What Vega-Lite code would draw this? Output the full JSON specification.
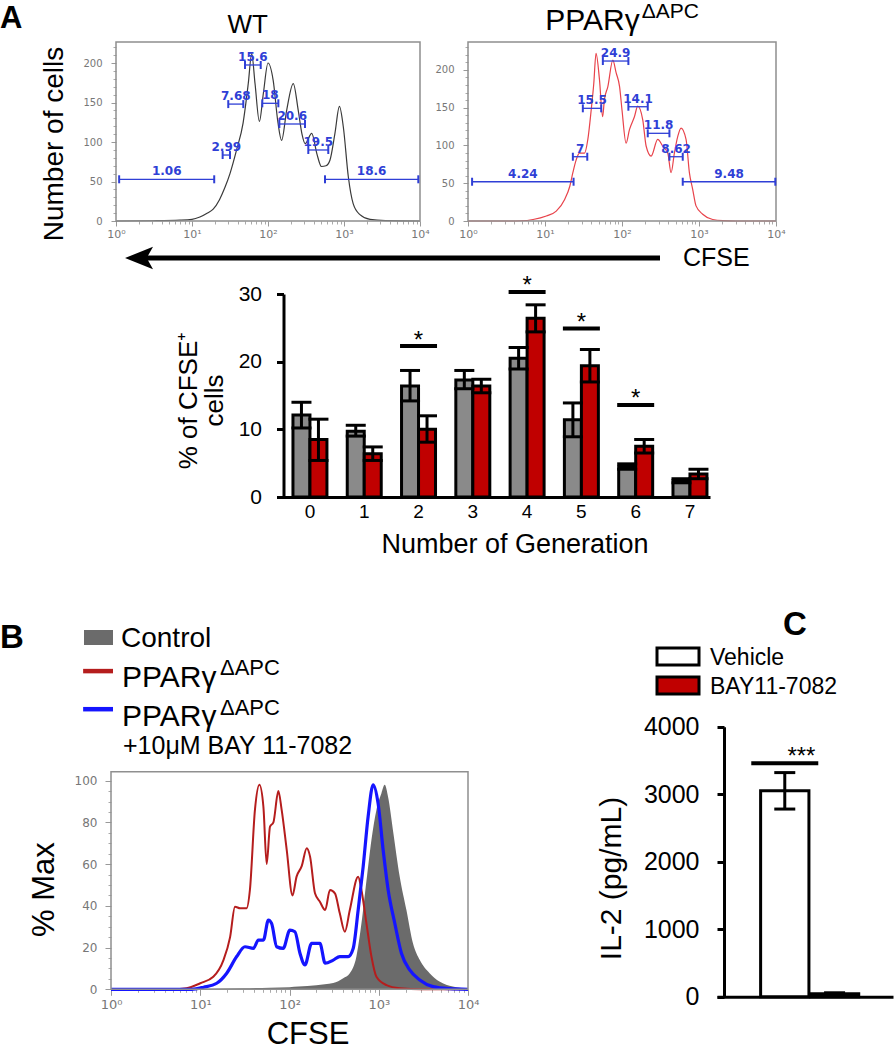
{
"$schema": "https://vega.github.io/schema/vega-lite/v6.json",
"width": 894, "height": 1050,
"autosize": {"type": "none"},
"padding": 0,
"background": "white",
"config": {"view": {"stroke": null}, "font": "Liberation Sans", "axis": {"grid": false}, "tick": {"opacity": 1}},
"datasets": {
"wt": [{"x":1,"y":0},{"x":3,"y":0.3},{"x":7,"y":1},{"x":10,"y":2},{"x":12.7,"y":5},{"x":16,"y":10},{"x":19,"y":15},{"x":23,"y":27},{"x":27,"y":42},{"x":31.6,"y":60},{"x":38.6,"y":90},{"x":47,"y":124},{"x":55,"y":174},{"x":61,"y":212},{"x":67.5,"y":174},{"x":77,"y":126},{"x":87,"y":162},{"x":100,"y":200},{"x":117,"y":178},{"x":135,"y":125},{"x":151,"y":102},{"x":176,"y":140},{"x":215,"y":174},{"x":250,"y":140},{"x":280,"y":110},{"x":308,"y":98},{"x":376,"y":111},{"x":440,"y":85},{"x":505,"y":69},{"x":580,"y":70},{"x":653,"y":77},{"x":760,"y":111},{"x":870,"y":145},{"x":980,"y":119},{"x":1140,"y":56},{"x":1320,"y":22},{"x":1620,"y":8},{"x":2200,"y":2},{"x":3500,"y":0.5},{"x":10000,"y":0}],
"ppar": [{"x":1,"y":0},{"x":3,"y":0},{"x":5,"y":0.3},{"x":7,"y":2},{"x":10.4,"y":6.6},{"x":14,"y":13},{"x":18,"y":28.6},{"x":21,"y":46},{"x":23,"y":64},{"x":25.4,"y":81},{"x":28,"y":90},{"x":32.6,"y":90},{"x":36,"y":108},{"x":39.8,"y":147},{"x":43,"y":182},{"x":46,"y":222},{"x":51,"y":187},{"x":56,"y":138},{"x":59,"y":160},{"x":65.5,"y":178},{"x":76,"y":213},{"x":84,"y":196},{"x":93,"y":178},{"x":100,"y":147},{"x":113,"y":103},{"x":125,"y":121},{"x":145,"y":138},{"x":160,"y":152},{"x":186,"y":134},{"x":206,"y":99},{"x":239,"y":86},{"x":291,"y":108},{"x":339,"y":99},{"x":393,"y":90},{"x":434,"y":64},{"x":479,"y":90},{"x":530,"y":112},{"x":585,"y":123},{"x":679,"y":108},{"x":750,"y":64},{"x":828,"y":42},{"x":915,"y":20},{"x":1117,"y":9},{"x":1506,"y":2},{"x":2040,"y":0.4},{"x":3000,"y":0},{"x":10000,"y":0}],
"wtg": [{"lo":1.1,"hi":19.6,"g":52.8,"t":"1.06"},{"lo":25.3,"hi":31.6,"g":83.5,"t":"2.99"},{"lo":30,"hi":47.3,"g":148,"t":"7.68"},{"lo":49.8,"hi":80.2,"g":197.5,"t":"15.6"},{"lo":84.1,"hi":136.8,"g":149,"t":"18"},{"lo":141,"hi":307,"g":122.8,"t":"20.6"},{"lo":339,"hi":621,"g":89.9,"t":"19.5"},{"lo":562,"hi":9500,"g":52.8,"t":"18.6"}],
"ppg": [{"lo":1.13,"hi":23.5,"g":52,"t":"4.24"},{"lo":23,"hi":35.4,"g":85.1,"t":"7"},{"lo":31,"hi":53.7,"g":149.2,"t":"15.5"},{"lo":56.4,"hi":121,"g":211.8,"t":"24.9"},{"lo":121,"hi":216,"g":151.3,"t":"14.1"},{"lo":216,"hi":413,"g":116.1,"t":"11.8"},{"lo":413,"hi":615,"g":85.1,"t":"8.62"},{"lo":615,"hi":9800,"g":52,"t":"9.48"}],
"bars": [{"gen":"0","group":"WT","v":12.1,"lo":10.2,"hi":14.0},{"gen":"0","group":"PPAR","v":8.5,"lo":5.4,"hi":11.5},{"gen":"1","group":"WT","v":9.7,"lo":9.0,"hi":10.6},{"gen":"1","group":"PPAR","v":6.4,"lo":5.4,"hi":7.4},{"gen":"2","group":"WT","v":16.4,"lo":14.2,"hi":18.7},{"gen":"2","group":"PPAR","v":10.0,"lo":8.1,"hi":12.0},{"gen":"3","group":"WT","v":17.3,"lo":16.0,"hi":18.7},{"gen":"3","group":"PPAR","v":16.4,"lo":15.4,"hi":17.4},{"gen":"4","group":"WT","v":20.5,"lo":18.9,"hi":22.1},{"gen":"4","group":"PPAR","v":26.4,"lo":24.4,"hi":28.4},{"gen":"5","group":"WT","v":11.4,"lo":8.9,"hi":13.9},{"gen":"5","group":"PPAR","v":19.4,"lo":17.0,"hi":21.8},{"gen":"6","group":"WT","v":4.5,"lo":4.1,"hi":4.9},{"gen":"6","group":"PPAR","v":7.5,"lo":6.5,"hi":8.5},{"gen":"7","group":"WT","v":2.4,"lo":2.1,"hi":2.7},{"gen":"7","group":"PPAR","v":3.4,"lo":2.7,"hi":4.1}],
"sig": [{"gen":"2","s":22.3},{"gen":"4","s":30.3},{"gen":"5","s":24.9},{"gen":"6","s":13.6}],
"ctrl": [{"x":1,"y":0},{"x":10,"y":0.3},{"x":30,"y":0.5},{"x":60,"y":0.8},{"x":100,"y":1},{"x":126,"y":1.3},{"x":200,"y":2},{"x":309,"y":3},{"x":400,"y":5.3},{"x":474,"y":7.7},{"x":562,"y":15.7},{"x":640,"y":31.6},{"x":728,"y":52},{"x":828,"y":71.6},{"x":942,"y":86},{"x":1072,"y":94},{"x":1167,"y":98},{"x":1274,"y":92},{"x":1445,"y":76},{"x":1718,"y":54},{"x":2042,"y":38},{"x":2421,"y":22},{"x":2884,"y":14},{"x":3715,"y":7.7},{"x":4786,"y":3.7},{"x":6761,"y":1.3},{"x":9550,"y":0.3},{"x":10000,"y":0.2}],
"red": [{"x":1,"y":0},{"x":5,"y":0},{"x":7,"y":0.5},{"x":10,"y":2.9},{"x":14,"y":6},{"x":18.2,"y":14},{"x":21.6,"y":25},{"x":24.5,"y":39.6},{"x":28,"y":38.8},{"x":33,"y":38.8},{"x":36,"y":47.6},{"x":41,"y":86},{"x":46,"y":98},{"x":51,"y":87.5},{"x":55.5,"y":60},{"x":60.5,"y":78},{"x":66,"y":80},{"x":75,"y":95},{"x":81.7,"y":86},{"x":93,"y":67},{"x":108,"y":45},{"x":120,"y":54},{"x":137,"y":59},{"x":156,"y":67.6},{"x":170,"y":63.6},{"x":193,"y":46},{"x":219,"y":42},{"x":251,"y":38},{"x":284,"y":47.6},{"x":323,"y":46},{"x":366,"y":36.4},{"x":417,"y":27.6},{"x":474,"y":38},{"x":588,"y":54},{"x":640,"y":47.6},{"x":728,"y":31.6},{"x":828,"y":15.7},{"x":942,"y":6},{"x":1220,"y":2},{"x":1718,"y":0.5},{"x":3000,"y":0},{"x":10000,"y":0}],
"blue": [{"x":1,"y":0},{"x":8,"y":0},{"x":10.9,"y":1},{"x":15.3,"y":2.9},{"x":19.8,"y":7.7},{"x":25.6,"y":15.7},{"x":31.7,"y":20.4},{"x":39.4,"y":19.6},{"x":44.8,"y":23.6},{"x":51,"y":23.6},{"x":58,"y":33.2},{"x":63,"y":31.6},{"x":71.8,"y":20.4},{"x":85,"y":19.6},{"x":101,"y":28.4},{"x":115,"y":27.6},{"x":131,"y":17.3},{"x":149,"y":11.7},{"x":177,"y":22},{"x":219,"y":22},{"x":251,"y":12.5},{"x":309,"y":14},{"x":366,"y":15.7},{"x":454,"y":15.7},{"x":517,"y":19.6},{"x":588,"y":38},{"x":669,"y":58.8},{"x":760,"y":82.7},{"x":865,"y":98},{"x":984,"y":89},{"x":1120,"y":66.8},{"x":1275,"y":47.6},{"x":1513,"y":31.6},{"x":1795,"y":17.3},{"x":2222,"y":9.3},{"x":2880,"y":4.5},{"x":4055,"y":1.3},{"x":6200,"y":0.3},{"x":10000,"y":0}],
"bleg": [{"k":"c","label":"Control","sup":"","line2":""},{"k":"p","label":"PPARγ","sup":"ΔAPC","line2":""},{"k":"b","label":"PPARγ","sup":"ΔAPC","line2":"+10μM BAY 11-7082"}],
"il2": [{"c":"Vehicle","v":3050,"lo":2780,"hi":3320},{"c":"BAY11-7082","v":45,"lo":32,"hi":58}],
"il2sig": [{"c":"Vehicle","s":3460}]
},
"resolve": {"scale": {"x": "independent", "y": "independent", "fill": "independent", "color": "independent"}, "axis": {"x": "independent", "y": "independent"}},
"layer": [
{"resolve": {"axis": {"x": "independent", "y": "independent"}},
 "layer": [
 {"data": {"name": "wt"}, "mark": {"type": "line", "color": "#3a3a3a", "strokeWidth": 1.2, "interpolate": "monotone"},
  "encoding": {"x": {"field": "x", "type": "quantitative", "scale": {"type": "log", "domain": [1, 10000], "range": [116, 420], "nice": false},
     "axis": {"orient": "bottom", "offset": -829, "values": [1, 10, 100, 1000, 10000], "labelExpr": "datum.value == 1 ? '10⁰' : datum.value == 10 ? '10¹' : datum.value == 100 ? '10²' : datum.value == 1000 ? '10³' : '10⁴'", "labelFont": "DejaVu Sans", "labelFontSize": 11, "labelColor": "#777", "tickColor": "#999", "tickSize": 5, "domain": false, "labelPadding": 2, "labelFlush": false, "labelOverlap": false, "title": null}},
   "y": {"field": "y", "type": "quantitative", "scale": {"type": "linear", "domain": [0, 226.6], "range": [221, 42], "nice": false, "zero": false},
     "axis": {"orient": "left", "offset": -116, "values": [0, 50, 100, 150, 200], "labelFont": "DejaVu Sans", "labelFontSize": 10, "labelColor": "#777", "tickColor": "#999", "tickSize": 5, "domain": false, "labelPadding": 9, "title": "Number of cells", "titleFont": "Liberation Sans", "titleFontSize": 28, "titleFontWeight": "normal", "titleColor": "black", "titleX": -54, "titleY": 143.5, "titleAngle": 270, "titleBaseline": "alphabetic", "titleAlign": "center"}}}},
 {"data": {"values": [{}]}, "mark": {"type": "rect", "filled": false, "color": "#8f8f8f", "strokeWidth": 1.5},
  "encoding": {"x": {"datum": 1, "type": "quantitative", "scale": {"type": "log", "domain": [1, 10000], "range": [116, 420], "nice": false},
     "axis": {"orient": "bottom", "offset": -829, "values": [2,3,4,5,6,7,8,9,20,30,40,50,60,70,80,90,200,300,400,500,600,700,800,900,2000,3000,4000,5000,6000,7000,8000,9000], "labels": false, "tickColor": "#aaa", "tickSize": 3, "domain": false, "title": null}}, "x2": {"datum": 10000},
   "y": {"datum": 0, "type": "quantitative", "scale": {"type": "linear", "domain": [0, 226.6], "range": [221, 42], "nice": false, "zero": false},
     "axis": {"orient": "left", "offset": -116, "values": [10,20,30,40,60,70,80,90,110,120,130,140,160,170,180,190,210,220], "labels": false, "tickColor": "#aaa", "tickSize": 3, "domain": false, "title": null}}, "y2": {"datum": 226.6}}},
 {"data": {"name": "wtg"}, "mark": {"type": "rule", "color": "#2f3fd6", "strokeWidth": 1.3},
  "encoding": {"x": {"field": "lo", "type": "quantitative", "scale": {"type": "log", "domain": [1, 10000], "range": [116, 420], "nice": false}, "axis": null}, "x2": {"field": "hi"},
   "y": {"field": "g", "type": "quantitative", "scale": {"type": "linear", "domain": [0, 226.6], "range": [221, 42], "nice": false, "zero": false}, "axis": null}}},
 {"data": {"name": "wtg"}, "mark": {"type": "tick", "orient": "vertical", "color": "#2f3fd6", "size": 8, "thickness": 2},
  "encoding": {"x": {"field": "lo", "type": "quantitative", "scale": {"type": "log", "domain": [1, 10000], "range": [116, 420], "nice": false}, "axis": null},
   "y": {"field": "g", "type": "quantitative", "scale": {"type": "linear", "domain": [0, 226.6], "range": [221, 42], "nice": false, "zero": false}, "axis": null}}},
 {"data": {"name": "wtg"}, "mark": {"type": "tick", "orient": "vertical", "color": "#2f3fd6", "size": 8, "thickness": 2},
  "encoding": {"x": {"field": "hi", "type": "quantitative", "scale": {"type": "log", "domain": [1, 10000], "range": [116, 420], "nice": false}, "axis": null},
   "y": {"field": "g", "type": "quantitative", "scale": {"type": "linear", "domain": [0, 226.6], "range": [221, 42], "nice": false, "zero": false}, "axis": null}}},
 {"data": {"name": "wtg"}, "transform": [{"calculate": "sqrt(datum.lo*datum.hi)", "as": "m"}],
  "mark": {"type": "text", "color": "#2f3fd6", "font": "DejaVu Sans", "fontWeight": "bold", "fontSize": 12, "dy": -4, "baseline": "alphabetic"},
  "encoding": {"x": {"field": "m", "type": "quantitative", "scale": {"type": "log", "domain": [1, 10000], "range": [116, 420], "nice": false}, "axis": null},
   "y": {"field": "g", "type": "quantitative", "scale": {"type": "linear", "domain": [0, 226.6], "range": [221, 42], "nice": false, "zero": false}, "axis": null}, "text": {"field": "t"}}},
 {"data": {"values": [{}]}, "mark": {"type": "text", "text": "WT", "fontSize": 26, "baseline": "alphabetic", "align": "center"},
  "encoding": {"x": {"datum": 54.1, "type": "quantitative", "scale": {"type": "log", "domain": [1, 10000], "range": [116, 420], "nice": false}, "axis": null},
   "y": {"datum": 238, "type": "quantitative", "scale": {"type": "linear", "domain": [0, 226.6], "range": [221, 42], "nice": false, "zero": false}, "axis": null}}},
 {"data": {"values": [{}]}, "mark": {"type": "text", "text": "A", "fontSize": 31, "fontWeight": "bold", "baseline": "alphabetic", "align": "left"},
  "encoding": {"x": {"datum": 0.0298, "type": "quantitative", "scale": {"type": "log", "domain": [1, 10000], "range": [116, 420], "nice": false}, "axis": null},
   "y": {"datum": 244.3, "type": "quantitative", "scale": {"type": "linear", "domain": [0, 226.6], "range": [221, 42], "nice": false, "zero": false}, "axis": null}}}
]},
{"resolve": {"axis": {"x": "independent", "y": "independent"}},
 "layer": [
 {"data": {"name": "ppar"}, "mark": {"type": "line", "color": "#e8434b", "strokeWidth": 1.2, "interpolate": "monotone"},
  "encoding": {"x": {"field": "x", "type": "quantitative", "scale": {"type": "log", "domain": [1, 10000], "range": [468, 776], "nice": false},
     "axis": {"orient": "bottom", "offset": -829, "values": [1, 10, 100, 1000, 10000], "labelExpr": "datum.value == 1 ? '10⁰' : datum.value == 10 ? '10¹' : datum.value == 100 ? '10²' : datum.value == 1000 ? '10³' : '10⁴'", "labelFont": "DejaVu Sans", "labelFontSize": 11, "labelColor": "#777", "tickColor": "#999", "tickSize": 5, "domain": false, "labelPadding": 2, "labelFlush": false, "labelOverlap": false, "title": null}},
   "y": {"field": "y", "type": "quantitative", "scale": {"type": "linear", "domain": [0, 237], "range": [221, 42], "nice": false, "zero": false},
     "axis": {"orient": "left", "offset": -468, "values": [0, 50, 100, 150, 200], "labelFont": "DejaVu Sans", "labelFontSize": 10, "labelColor": "#777", "tickColor": "#999", "tickSize": 5, "domain": false, "labelPadding": 9, "title": null}}}},
 {"data": {"values": [{}]}, "mark": {"type": "rect", "filled": false, "color": "#8f8f8f", "strokeWidth": 1.5},
  "encoding": {"x": {"datum": 1, "type": "quantitative", "scale": {"type": "log", "domain": [1, 10000], "range": [468, 776], "nice": false},
     "axis": {"orient": "bottom", "offset": -829, "values": [2,3,4,5,6,7,8,9,20,30,40,50,60,70,80,90,200,300,400,500,600,700,800,900,2000,3000,4000,5000,6000,7000,8000,9000], "labels": false, "tickColor": "#aaa", "tickSize": 3, "domain": false, "title": null}}, "x2": {"datum": 10000},
   "y": {"datum": 0, "type": "quantitative", "scale": {"type": "linear", "domain": [0, 237], "range": [221, 42], "nice": false, "zero": false},
     "axis": {"orient": "left", "offset": -468, "values": [10,20,30,40,60,70,80,90,110,120,130,140,160,170,180,190,210,220,230], "labels": false, "tickColor": "#aaa", "tickSize": 3, "domain": false, "title": null}}, "y2": {"datum": 237}}},
 {"data": {"name": "ppg"}, "mark": {"type": "rule", "color": "#2f3fd6", "strokeWidth": 1.3},
  "encoding": {"x": {"field": "lo", "type": "quantitative", "scale": {"type": "log", "domain": [1, 10000], "range": [468, 776], "nice": false}, "axis": null}, "x2": {"field": "hi"},
   "y": {"field": "g", "type": "quantitative", "scale": {"type": "linear", "domain": [0, 237], "range": [221, 42], "nice": false, "zero": false}, "axis": null}}},
 {"data": {"name": "ppg"}, "mark": {"type": "tick", "orient": "vertical", "color": "#2f3fd6", "size": 8, "thickness": 2},
  "encoding": {"x": {"field": "lo", "type": "quantitative", "scale": {"type": "log", "domain": [1, 10000], "range": [468, 776], "nice": false}, "axis": null},
   "y": {"field": "g", "type": "quantitative", "scale": {"type": "linear", "domain": [0, 237], "range": [221, 42], "nice": false, "zero": false}, "axis": null}}},
 {"data": {"name": "ppg"}, "mark": {"type": "tick", "orient": "vertical", "color": "#2f3fd6", "size": 8, "thickness": 2},
  "encoding": {"x": {"field": "hi", "type": "quantitative", "scale": {"type": "log", "domain": [1, 10000], "range": [468, 776], "nice": false}, "axis": null},
   "y": {"field": "g", "type": "quantitative", "scale": {"type": "linear", "domain": [0, 237], "range": [221, 42], "nice": false, "zero": false}, "axis": null}}},
 {"data": {"name": "ppg"}, "transform": [{"calculate": "sqrt(datum.lo*datum.hi)", "as": "m"}],
  "mark": {"type": "text", "color": "#2f3fd6", "font": "DejaVu Sans", "fontWeight": "bold", "fontSize": 12, "dy": -4, "baseline": "alphabetic"},
  "encoding": {"x": {"field": "m", "type": "quantitative", "scale": {"type": "log", "domain": [1, 10000], "range": [468, 776], "nice": false}, "axis": null},
   "y": {"field": "g", "type": "quantitative", "scale": {"type": "linear", "domain": [0, 237], "range": [221, 42], "nice": false, "zero": false}, "axis": null}, "text": {"field": "t"}}},
 {"data": {"values": [{}]}, "mark": {"type": "text", "text": "PPARγ", "fontSize": 30, "baseline": "alphabetic", "align": "right"},
  "encoding": {"x": {"datum": 170, "type": "quantitative", "scale": {"type": "log", "domain": [1, 10000], "range": [468, 776], "nice": false}, "axis": null},
   "y": {"datum": 252.9, "type": "quantitative", "scale": {"type": "linear", "domain": [0, 237], "range": [221, 42], "nice": false, "zero": false}, "axis": null}}},
 {"data": {"values": [{}]}, "mark": {"type": "text", "text": "ΔAPC", "fontSize": 21, "baseline": "alphabetic", "align": "left", "dx": 2},
  "encoding": {"x": {"datum": 170, "type": "quantitative", "scale": {"type": "log", "domain": [1, 10000], "range": [468, 776], "nice": false}, "axis": null},
   "y": {"datum": 268.4, "type": "quantitative", "scale": {"type": "linear", "domain": [0, 237], "range": [221, 42], "nice": false, "zero": false}, "axis": null}}}
]},
{"data": {"values": [{}]}, "layer": [
 {"mark": {"type": "rule", "color": "black", "strokeWidth": 5},
  "encoding": {"x": {"datum": 0.03, "type": "quantitative", "scale": {"type": "linear", "domain": [0, 1], "range": [125, 660], "nice": false, "zero": false}, "axis": null}, "x2": {"datum": 1},
   "y": {"datum": 0.5, "type": "quantitative", "scale": {"type": "linear", "domain": [0, 1], "range": [269, 247], "nice": false, "zero": false}, "axis": null}}},
 {"mark": {"type": "point", "shape": "M-1,0L1,-0.8L0.55,0L1,0.8Z", "filled": true, "color": "black", "opacity": 1, "size": 784},
  "encoding": {"x": {"datum": 0.0262, "type": "quantitative", "scale": {"type": "linear", "domain": [0, 1], "range": [125, 660], "nice": false, "zero": false}, "axis": null},
   "y": {"datum": 0.5, "type": "quantitative", "scale": {"type": "linear", "domain": [0, 1], "range": [269, 247], "nice": false, "zero": false}, "axis": null}}},
 {"mark": {"type": "text", "text": "CFSE", "fontSize": 25, "baseline": "middle", "align": "left"},
  "encoding": {"x": {"datum": 1.043, "type": "quantitative", "scale": {"type": "linear", "domain": [0, 1], "range": [125, 660], "nice": false, "zero": false}, "axis": null},
   "y": {"datum": 0.5, "type": "quantitative", "scale": {"type": "linear", "domain": [0, 1], "range": [269, 247], "nice": false, "zero": false}, "axis": null}}}
]},
{"layer": [
 {"data": {"name": "bars"}, "mark": {"type": "bar", "stroke": "black", "strokeWidth": 3},
  "encoding": {"x": {"field": "gen", "type": "nominal", "scale": {"type": "band", "domain": ["0","1","2","3","4","5","6","7"], "range": [277, 710], "paddingInner": 0.374, "paddingOuter": 0.175, "align": 0.84},
     "axis": {"orient": "bottom", "offset": -553, "labelAngle": 0, "labelFontSize": 19, "labelColor": "black", "labelPadding": 5, "ticks": false, "domainColor": "black", "domainWidth": 3, "title": "Number of Generation", "titleFontSize": 27, "titleFontWeight": "normal", "titleColor": "black", "titleX": 514.5, "titleY": 55.7, "titleBaseline": "alphabetic", "titleAlign": "center"}},
   "xOffset": {"field": "group", "type": "nominal", "scale": {"domain": ["WT", "PPAR"]}},
   "y": {"field": "v", "type": "quantitative", "scale": {"type": "linear", "domain": [0, 30], "range": [497, 294], "nice": false},
     "axis": {"orient": "left", "offset": -283.5, "values": [0, 10, 20, 30], "labelFontSize": 21, "labelColor": "black", "labelPadding": 15, "tickSize": 7, "tickWidth": 3, "tickColor": "black", "domainColor": "black", "domainWidth": 3, "title": ["% of CFSE⁺", "cells"], "titleFontSize": 26, "titleFontWeight": "normal", "titleColor": "black", "titleX": -87.5, "titleY": 400, "titleAngle": 270, "titleBaseline": "alphabetic", "titleAlign": "center", "titleLineHeight": 26}},
   "fill": {"field": "group", "type": "nominal", "scale": {"domain": ["WT", "PPAR"], "range": ["#8a8a8a", "#c00000"]}, "legend": null}}},
 {"data": {"name": "bars"}, "mark": {"type": "rule", "color": "black", "strokeWidth": 3},
  "encoding": {"x": {"field": "gen", "type": "nominal", "scale": {"type": "band", "domain": ["0","1","2","3","4","5","6","7"], "range": [277, 710], "paddingInner": 0.374, "paddingOuter": 0.175, "align": 0.84}},
   "xOffset": {"field": "group", "type": "nominal", "scale": {"domain": ["WT", "PPAR"]}},
   "y": {"field": "lo", "type": "quantitative", "scale": {"type": "linear", "domain": [0, 30], "range": [497, 294], "nice": false}}, "y2": {"field": "hi"}}},
 {"data": {"name": "bars"}, "mark": {"type": "tick", "color": "black", "size": 20, "thickness": 3, "opacity": 1},
  "encoding": {"x": {"field": "gen", "type": "nominal", "scale": {"type": "band", "domain": ["0","1","2","3","4","5","6","7"], "range": [277, 710], "paddingInner": 0.374, "paddingOuter": 0.175, "align": 0.84}},
   "xOffset": {"field": "group", "type": "nominal", "scale": {"domain": ["WT", "PPAR"]}},
   "y": {"field": "hi", "type": "quantitative", "scale": {"type": "linear", "domain": [0, 30], "range": [497, 294], "nice": false}}}},
 {"data": {"name": "bars"}, "mark": {"type": "tick", "color": "black", "size": 20, "thickness": 3, "opacity": 1},
  "encoding": {"x": {"field": "gen", "type": "nominal", "scale": {"type": "band", "domain": ["0","1","2","3","4","5","6","7"], "range": [277, 710], "paddingInner": 0.374, "paddingOuter": 0.175, "align": 0.84}},
   "xOffset": {"field": "group", "type": "nominal", "scale": {"domain": ["WT", "PPAR"]}},
   "y": {"field": "lo", "type": "quantitative", "scale": {"type": "linear", "domain": [0, 30], "range": [497, 294], "nice": false}}}},
 {"data": {"name": "sig"}, "mark": {"type": "tick", "color": "black", "size": 37, "thickness": 4, "opacity": 1},
  "encoding": {"x": {"field": "gen", "type": "nominal", "scale": {"type": "band", "domain": ["0","1","2","3","4","5","6","7"], "range": [277, 710], "paddingInner": 0.374, "paddingOuter": 0.175, "align": 0.84}},
   "y": {"field": "s", "type": "quantitative", "scale": {"type": "linear", "domain": [0, 30], "range": [497, 294], "nice": false}}}},
 {"data": {"name": "sig"}, "mark": {"type": "text", "text": "*", "color": "black", "fontSize": 24, "baseline": "alphabetic", "dy": 1.5},
  "encoding": {"x": {"field": "gen", "type": "nominal", "scale": {"type": "band", "domain": ["0","1","2","3","4","5","6","7"], "range": [277, 710], "paddingInner": 0.374, "paddingOuter": 0.175, "align": 0.84}},
   "y": {"field": "s", "type": "quantitative", "scale": {"type": "linear", "domain": [0, 30], "range": [497, 294], "nice": false}}}}
]},
{"resolve": {"axis": {"x": "independent", "y": "independent"}},
 "layer": [
 {"data": {"name": "ctrl"}, "mark": {"type": "area", "color": "#6b6b6b", "interpolate": "monotone", "opacity": 1},
  "encoding": {"x": {"field": "x", "type": "quantitative", "scale": {"type": "log", "domain": [1, 10000], "range": [111, 468], "nice": false},
     "axis": {"orient": "bottom", "offset": -60.7, "values": [1, 10, 100, 1000, 10000], "labelExpr": "datum.value == 1 ? '10⁰' : datum.value == 10 ? '10¹' : datum.value == 100 ? '10²' : datum.value == 1000 ? '10³' : '10⁴'", "labelFont": "DejaVu Sans", "labelFontSize": 13, "labelColor": "#777", "tickColor": "#999", "tickSize": 6, "domain": false, "labelPadding": 3, "labelFlush": false, "labelOverlap": false, "title": "CFSE", "titleFont": "Liberation Sans", "titleFontSize": 31, "titleFontWeight": "normal", "titleColor": "black", "titleX": 307.5, "titleY": 54, "titleBaseline": "alphabetic", "titleAlign": "center"}},
   "y": {"field": "y", "type": "quantitative", "scale": {"type": "linear", "domain": [0, 104.3], "range": [989.3, 771.7], "nice": false, "zero": false},
     "axis": {"orient": "left", "offset": -111, "values": [0, 20, 40, 60, 80, 100], "labelFont": "DejaVu Sans", "labelFontSize": 12, "labelColor": "#777", "tickColor": "#999", "tickSize": 6, "domain": false, "labelPadding": 8, "title": "% Max", "titleFont": "Liberation Sans", "titleFontSize": 31, "titleFontWeight": "normal", "titleColor": "black", "titleX": -58, "titleY": 889, "titleAngle": 270, "titleBaseline": "alphabetic", "titleAlign": "center"}}}},
 {"data": {"name": "red"}, "mark": {"type": "line", "color": "#b51d1d", "strokeWidth": 2, "interpolate": "monotone"},
  "encoding": {"x": {"field": "x", "type": "quantitative", "scale": {"type": "log", "domain": [1, 10000], "range": [111, 468], "nice": false}, "axis": null},
   "y": {"field": "y", "type": "quantitative", "scale": {"type": "linear", "domain": [0, 104.3], "range": [989.3, 771.7], "nice": false, "zero": false}, "axis": null}}},
 {"data": {"name": "blue"}, "mark": {"type": "line", "color": "#1515ff", "strokeWidth": 3.2, "interpolate": "monotone"},
  "encoding": {"x": {"field": "x", "type": "quantitative", "scale": {"type": "log", "domain": [1, 10000], "range": [111, 468], "nice": false}, "axis": null},
   "y": {"field": "y", "type": "quantitative", "scale": {"type": "linear", "domain": [0, 104.3], "range": [989.3, 771.7], "nice": false, "zero": false}, "axis": null}}},
 {"data": {"values": [{}]}, "mark": {"type": "rect", "filled": false, "color": "#8f8f8f", "strokeWidth": 1.5},
  "encoding": {"x": {"datum": 1, "type": "quantitative", "scale": {"type": "log", "domain": [1, 10000], "range": [111, 468], "nice": false},
     "axis": {"orient": "bottom", "offset": -60.7, "values": [2,3,4,5,6,7,8,9,20,30,40,50,60,70,80,90,200,300,400,500,600,700,800,900,2000,3000,4000,5000,6000,7000,8000,9000], "labels": false, "tickColor": "#aaa", "tickSize": 3, "domain": false, "title": null}}, "x2": {"datum": 10000},
   "y": {"datum": 0, "type": "quantitative", "scale": {"type": "linear", "domain": [0, 104.3], "range": [989.3, 771.7], "nice": false, "zero": false},
     "axis": {"orient": "left", "offset": -111, "values": [5,10,15,25,30,35,45,50,55,65,70,75,85,90,95], "labels": false, "tickColor": "#aaa", "tickSize": 3, "domain": false, "title": null}}, "y2": {"datum": 104.3}}}
]},
{"data": {"name": "bleg"}, "layer": [
 {"transform": [{"filter": "datum.k == 'c'"}], "mark": {"type": "rect", "color": "#6b6b6b"},
  "encoding": {"x": {"datum": 0, "type": "quantitative", "scale": {"type": "linear", "domain": [0, 1], "range": [84, 113], "nice": false, "zero": false}, "axis": null}, "x2": {"datum": 1},
   "y": {"field": "k", "type": "nominal", "scale": {"type": "band", "domain": ["c", "p", "b"], "range": [630, 724.2], "paddingInner": 0.621, "paddingOuter": 0}, "axis": null}}},
 {"transform": [{"filter": "datum.k == 'p'"}], "mark": {"type": "rule", "color": "#b51d1d", "strokeWidth": 4.5},
  "encoding": {"x": {"datum": -0.03, "type": "quantitative", "scale": {"type": "linear", "domain": [0, 1], "range": [84, 113], "nice": false, "zero": false}, "axis": null}, "x2": {"datum": 1},
   "y": {"field": "k", "type": "nominal", "bandPosition": 0.1, "scale": {"type": "band", "domain": ["c", "p", "b"], "range": [630, 724.2], "paddingInner": 0.621, "paddingOuter": 0}, "axis": null}}},
 {"transform": [{"filter": "datum.k == 'b'"}], "mark": {"type": "rule", "color": "#1515ff", "strokeWidth": 4.5},
  "encoding": {"x": {"datum": -0.03, "type": "quantitative", "scale": {"type": "linear", "domain": [0, 1], "range": [84, 113], "nice": false, "zero": false}, "axis": null}, "x2": {"datum": 1},
   "y": {"field": "k", "type": "nominal", "bandPosition": 0, "scale": {"type": "band", "domain": ["c", "p", "b"], "range": [630, 724.2], "paddingInner": 0.621, "paddingOuter": 0}, "axis": null}}},
 {"transform": [{"filter": "datum.k == 'c'"}], "mark": {"type": "text", "fontSize": 28, "baseline": "alphabetic", "align": "left", "dx": 8, "dy": 2},
  "encoding": {"x": {"datum": 1, "type": "quantitative", "scale": {"type": "linear", "domain": [0, 1], "range": [84, 113], "nice": false, "zero": false}, "axis": null},
   "y": {"field": "k", "type": "nominal", "bandPosition": 1, "scale": {"type": "band", "domain": ["c", "p", "b"], "range": [630, 724.2], "paddingInner": 0.621, "paddingOuter": 0}, "axis": null}, "text": {"field": "label"}}},
 {"transform": [{"filter": "datum.k != 'c'"}], "mark": {"type": "text", "fontSize": 30, "baseline": "alphabetic", "align": "left", "dx": 9, "dy": 2},
  "encoding": {"x": {"datum": 1, "type": "quantitative", "scale": {"type": "linear", "domain": [0, 1], "range": [84, 113], "nice": false, "zero": false}, "axis": null},
   "y": {"field": "k", "type": "nominal", "bandPosition": 1, "scale": {"type": "band", "domain": ["c", "p", "b"], "range": [630, 724.2], "paddingInner": 0.621, "paddingOuter": 0}, "axis": null}, "text": {"field": "label"}}},
 {"transform": [{"filter": "datum.k != 'c'"}], "mark": {"type": "text", "fontSize": 22, "baseline": "alphabetic", "align": "left", "dx": 107, "dy": -9.7},
  "encoding": {"x": {"datum": 1, "type": "quantitative", "scale": {"type": "linear", "domain": [0, 1], "range": [84, 113], "nice": false, "zero": false}, "axis": null},
   "y": {"field": "k", "type": "nominal", "bandPosition": 1, "scale": {"type": "band", "domain": ["c", "p", "b"], "range": [630, 724.2], "paddingInner": 0.621, "paddingOuter": 0}, "axis": null}, "text": {"field": "sup"}}},
 {"transform": [{"filter": "datum.k == 'b'"}], "mark": {"type": "text", "fontSize": 25, "baseline": "alphabetic", "align": "left", "dx": 10, "dy": 30},
  "encoding": {"x": {"datum": 1, "type": "quantitative", "scale": {"type": "linear", "domain": [0, 1], "range": [84, 113], "nice": false, "zero": false}, "axis": null},
   "y": {"field": "k", "type": "nominal", "bandPosition": 1, "scale": {"type": "band", "domain": ["c", "p", "b"], "range": [630, 724.2], "paddingInner": 0.621, "paddingOuter": 0}, "axis": null}, "text": {"field": "line2"}}},
 {"transform": [{"filter": "datum.k == 'c'"}], "mark": {"type": "text", "text": "B", "fontSize": 33, "fontWeight": "bold", "baseline": "alphabetic", "align": "left", "dy": 3},
  "encoding": {"x": {"datum": -2.897, "type": "quantitative", "scale": {"type": "linear", "domain": [0, 1], "range": [84, 113], "nice": false, "zero": false}, "axis": null},
   "y": {"field": "k", "type": "nominal", "bandPosition": 1, "scale": {"type": "band", "domain": ["c", "p", "b"], "range": [630, 724.2], "paddingInner": 0.621, "paddingOuter": 0}, "axis": null}}}
]},
{"layer": [
 {"data": {"name": "il2"}, "mark": {"type": "bar", "stroke": "black", "strokeWidth": 3},
  "encoding": {"x": {"field": "c", "type": "nominal", "scale": {"type": "band", "domain": ["Vehicle", "BAY11-7082"], "range": [717, 893], "paddingInner": 0.03, "paddingOuter": 0.782, "align": 0.56},
     "axis": {"orient": "bottom", "offset": -53.3, "labels": false, "ticks": false, "domainColor": "black", "domainWidth": 3, "title": null}},
   "y": {"field": "v", "type": "quantitative", "scale": {"type": "linear", "domain": [0, 4000], "range": [996.7, 726.7], "nice": false},
     "axis": {"orient": "left", "offset": -724, "values": [0, 1000, 2000, 3000, 4000], "format": "d", "labelFontSize": 25, "labelColor": "black", "labelPadding": 18, "tickSize": 7, "tickWidth": 3, "tickColor": "black", "domainColor": "black", "domainWidth": 3, "title": "IL-2 (pg/mL)", "titleFontSize": 30, "titleFontWeight": "normal", "titleColor": "black", "titleX": -104, "titleY": 878, "titleAngle": 270, "titleBaseline": "alphabetic", "titleAlign": "center"}},
   "fill": {"field": "c", "type": "nominal", "scale": {"domain": ["Vehicle", "BAY11-7082"], "range": ["white", "#c00000"]}, "legend": null}}},
 {"data": {"name": "il2"}, "mark": {"type": "rule", "color": "black", "strokeWidth": 3},
  "encoding": {"x": {"field": "c", "type": "nominal", "scale": {"type": "band", "domain": ["Vehicle", "BAY11-7082"], "range": [717, 893], "paddingInner": 0.03, "paddingOuter": 0.782, "align": 0.56}},
   "y": {"field": "lo", "type": "quantitative", "scale": {"type": "linear", "domain": [0, 4000], "range": [996.7, 726.7], "nice": false}}, "y2": {"field": "hi"}}},
 {"data": {"name": "il2"}, "mark": {"type": "tick", "color": "black", "size": 21, "thickness": 3, "opacity": 1},
  "encoding": {"x": {"field": "c", "type": "nominal", "scale": {"type": "band", "domain": ["Vehicle", "BAY11-7082"], "range": [717, 893], "paddingInner": 0.03, "paddingOuter": 0.782, "align": 0.56}},
   "y": {"field": "hi", "type": "quantitative", "scale": {"type": "linear", "domain": [0, 4000], "range": [996.7, 726.7], "nice": false}}}},
 {"data": {"name": "il2"}, "mark": {"type": "tick", "color": "black", "size": 21, "thickness": 3, "opacity": 1},
  "encoding": {"x": {"field": "c", "type": "nominal", "scale": {"type": "band", "domain": ["Vehicle", "BAY11-7082"], "range": [717, 893], "paddingInner": 0.03, "paddingOuter": 0.782, "align": 0.56}},
   "y": {"field": "lo", "type": "quantitative", "scale": {"type": "linear", "domain": [0, 4000], "range": [996.7, 726.7], "nice": false}}}},
 {"data": {"name": "il2sig"}, "mark": {"type": "tick", "color": "black", "size": 67, "thickness": 4, "opacity": 1},
  "encoding": {"x": {"field": "c", "type": "nominal", "bandPosition": 0.845, "scale": {"type": "band", "domain": ["Vehicle", "BAY11-7082"], "range": [717, 893], "paddingInner": 0.03, "paddingOuter": 0.782, "align": 0.56}},
   "y": {"field": "s", "type": "quantitative", "scale": {"type": "linear", "domain": [0, 4000], "range": [996.7, 726.7], "nice": false}}}},
 {"data": {"name": "il2sig"}, "mark": {"type": "text", "text": "***", "color": "black", "fontSize": 24, "baseline": "alphabetic", "dy": 1},
  "encoding": {"x": {"field": "c", "type": "nominal", "bandPosition": 0.845, "scale": {"type": "band", "domain": ["Vehicle", "BAY11-7082"], "range": [717, 893], "paddingInner": 0.03, "paddingOuter": 0.782, "align": 0.56}},
   "y": {"field": "s", "type": "quantitative", "scale": {"type": "linear", "domain": [0, 4000], "range": [996.7, 726.7], "nice": false}}}}
]},
{"data": {"name": "il2"}, "layer": [
 {"mark": {"type": "rect", "stroke": "black", "strokeWidth": 3},
  "encoding": {"x": {"datum": 0, "type": "quantitative", "scale": {"type": "linear", "domain": [0, 1], "range": [657, 699], "nice": false, "zero": false}, "axis": null}, "x2": {"datum": 1},
   "y": {"field": "c", "type": "nominal", "scale": {"type": "band", "domain": ["Vehicle", "BAY11-7082"], "range": [648, 694], "paddingInner": 0.414, "paddingOuter": 0}, "axis": null},
   "fill": {"field": "c", "type": "nominal", "scale": {"domain": ["Vehicle", "BAY11-7082"], "range": ["white", "#c00000"]}, "legend": null}}},
 {"mark": {"type": "text", "fontSize": 23, "baseline": "alphabetic", "align": "left", "dx": 11},
  "encoding": {"x": {"datum": 1, "type": "quantitative", "scale": {"type": "linear", "domain": [0, 1], "range": [657, 699], "nice": false, "zero": false}, "axis": null},
   "y": {"field": "c", "type": "nominal", "bandPosition": 1, "scale": {"type": "band", "domain": ["Vehicle", "BAY11-7082"], "range": [648, 694], "paddingInner": 0.414, "paddingOuter": 0}, "axis": null}, "text": {"field": "c"}}},
 {"transform": [{"filter": "datum.c == 'Vehicle'"}], "mark": {"type": "text", "text": "C", "fontSize": 33, "fontWeight": "bold", "baseline": "alphabetic", "align": "left", "dy": -13},
  "encoding": {"x": {"datum": 3, "type": "quantitative", "scale": {"type": "linear", "domain": [0, 1], "range": [657, 699], "nice": false, "zero": false}, "axis": null},
   "y": {"field": "c", "type": "nominal", "bandPosition": 0, "scale": {"type": "band", "domain": ["Vehicle", "BAY11-7082"], "range": [648, 694], "paddingInner": 0.414, "paddingOuter": 0}, "axis": null}}}
]}
]
}
